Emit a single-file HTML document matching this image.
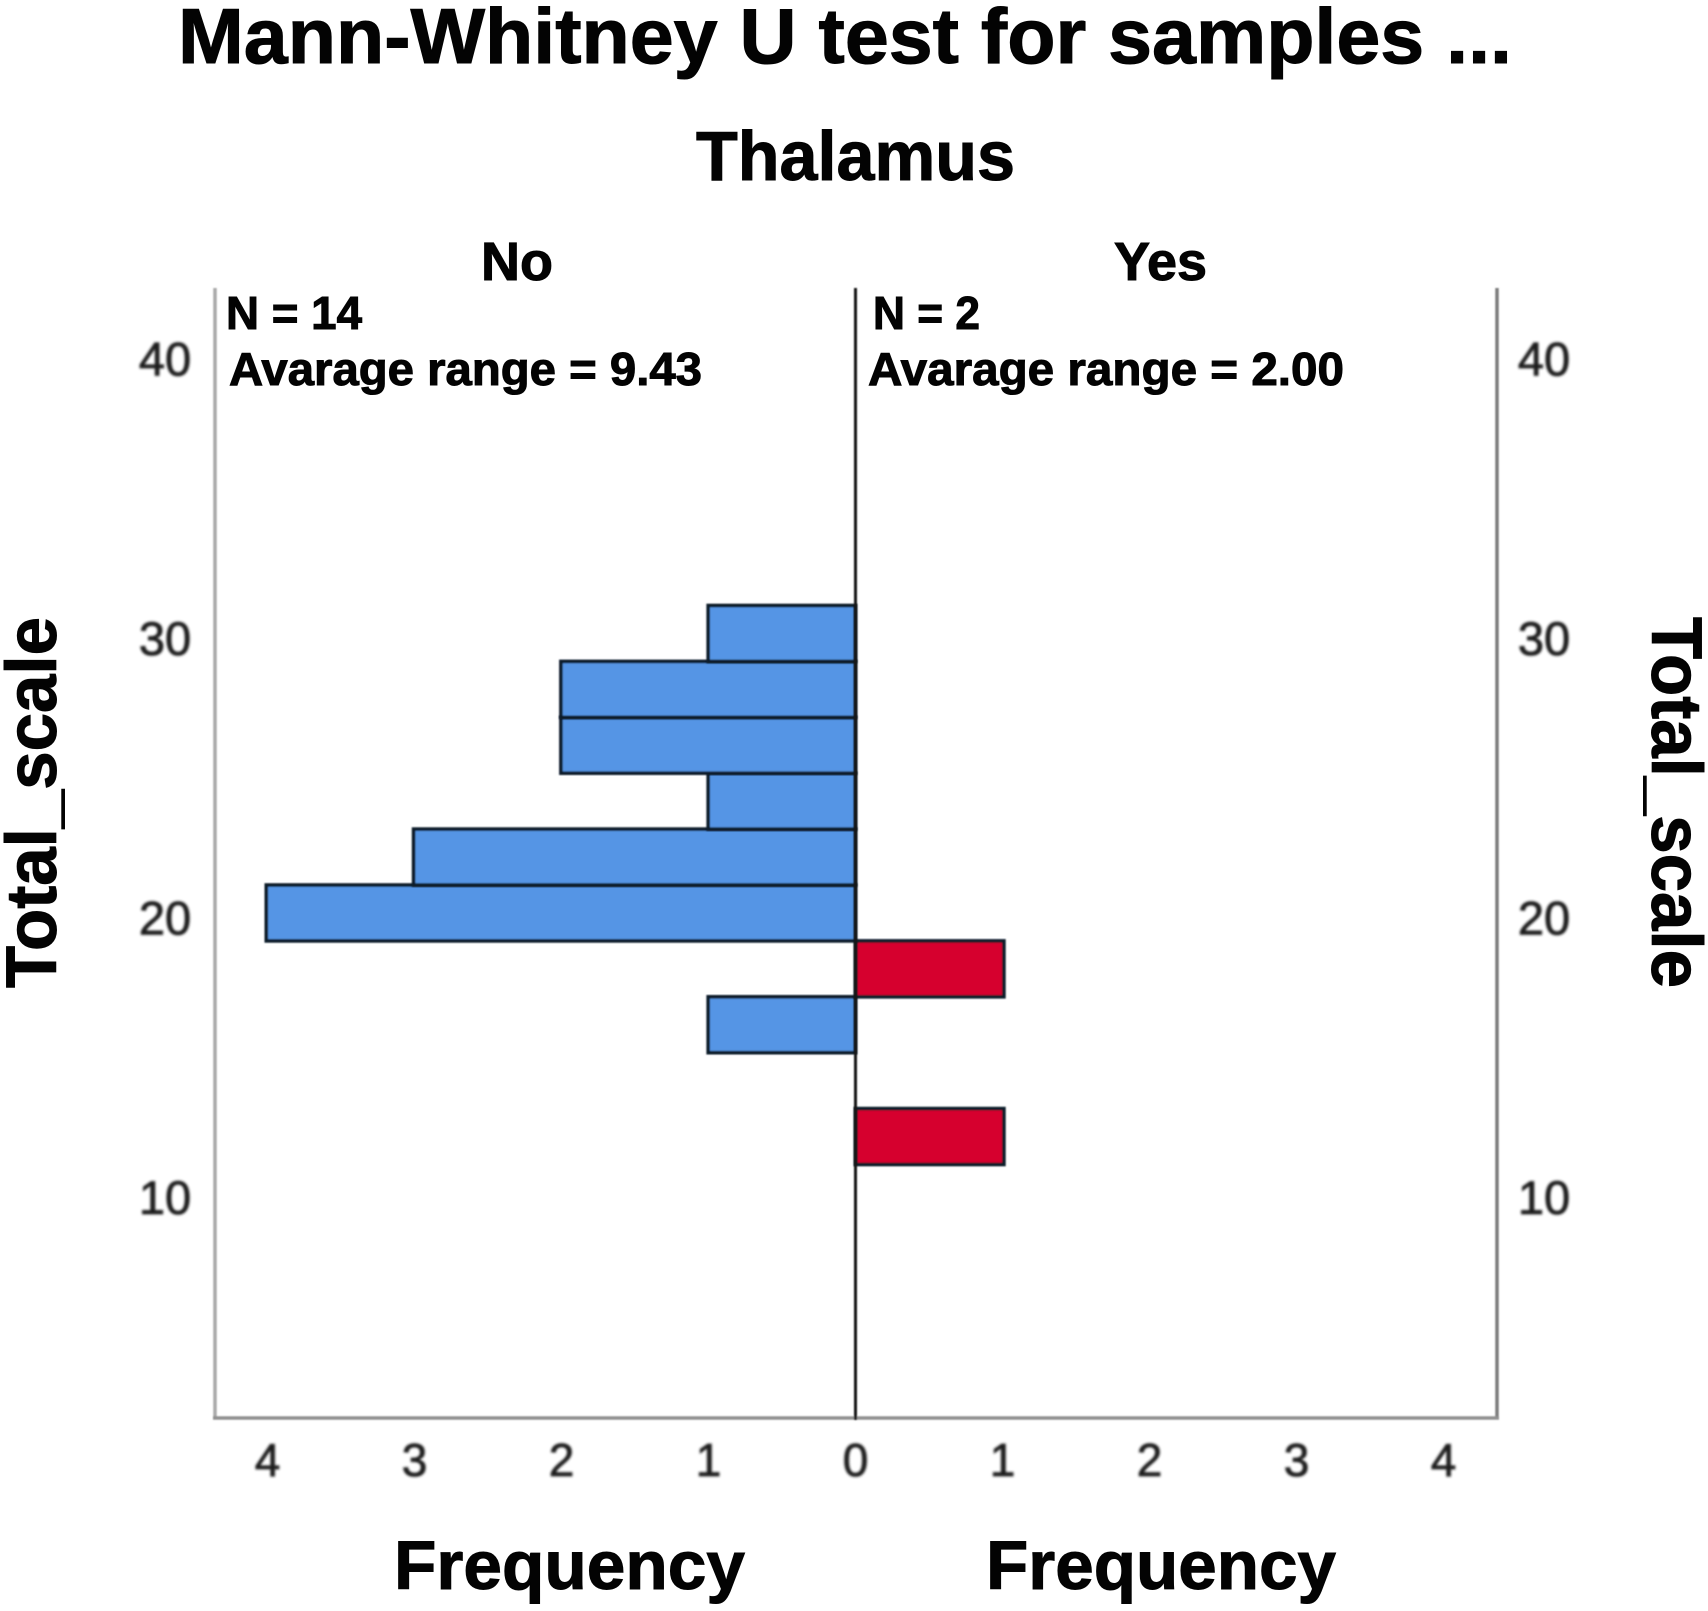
<!DOCTYPE html>
<html lang="en">
<head>
<meta charset="utf-8">
<title>Mann-Whitney U test for samples</title>
<style>
html,body{margin:0;padding:0;background:#fff;width:1708px;height:1611px;overflow:hidden}
svg{display:block}
.h{font-family:"Liberation Sans",sans-serif;font-weight:700;fill:#030303;stroke:#030303;stroke-width:1px}
.t{font-family:"Liberation Sans",sans-serif;fill:#1e1e1e;stroke:#1e1e1e;stroke-width:0.8px;filter:url(#soft)}
</style>
</head>
<body>
<svg id="chart" width="1708" height="1611" viewBox="0 0 1708 1611" xmlns="http://www.w3.org/2000/svg">
<defs>
<filter id="soft" x="-30%" y="-30%" width="160%" height="160%"><feGaussianBlur stdDeviation="1.4"/></filter>
<filter id="edge" x="-5%" y="-5%" width="110%" height="110%"><feGaussianBlur stdDeviation="0.8"/></filter>
</defs>
<rect width="1708" height="1611" fill="#fff"/>
<text class="h" x="178" y="63" font-size="78" textLength="1334" lengthAdjust="spacingAndGlyphs">Mann-Whitney U test for samples ...</text>
<text class="h" x="696" y="180" font-size="70" textLength="319" lengthAdjust="spacingAndGlyphs">Thalamus</text>
<text class="h" x="481" y="280" font-size="54" textLength="72" lengthAdjust="spacingAndGlyphs">No</text>
<text class="h" x="1114" y="280" font-size="54" textLength="93" lengthAdjust="spacingAndGlyphs">Yes</text>
<text class="h" x="226" y="329" font-size="46" textLength="136" lengthAdjust="spacingAndGlyphs">N = 14</text>
<text class="h" x="229" y="385" font-size="46" textLength="473" lengthAdjust="spacingAndGlyphs">Avarage range = 9.43</text>
<text class="h" x="873" y="329" font-size="46" textLength="107" lengthAdjust="spacingAndGlyphs">N = 2</text>
<text class="h" x="868" y="385" font-size="46" textLength="476" lengthAdjust="spacingAndGlyphs">Avarage range = 2.00</text>
<text class="h" x="394" y="1589" font-size="69" textLength="351" lengthAdjust="spacingAndGlyphs">Frequency</text>
<text class="h" x="986" y="1589" font-size="69" textLength="350" lengthAdjust="spacingAndGlyphs">Frequency</text>
<text class="h" transform="translate(56 988) rotate(-90)" font-size="71" textLength="371" lengthAdjust="spacingAndGlyphs">Total_scale</text>
<text class="h" transform="translate(1652 617) rotate(90)" font-size="71" textLength="371" lengthAdjust="spacingAndGlyphs">Total_scale</text>
<g id="bars"></g>
<g id="frame" filter="url(#edge)">
<line x1="215" y1="288" x2="215" y2="1418" stroke="#a8a8a8" stroke-width="3.5"/>
<line x1="1497" y1="288" x2="1497" y2="1418" stroke="#7d7d7d" stroke-width="3.5"/>
<line x1="213" y1="1418" x2="1499" y2="1418" stroke="#909090" stroke-width="3.5"/>
<line x1="855.5" y1="288" x2="855.5" y2="1420" stroke="#141414" stroke-width="3"/>
</g>
<g id="ticks"></g>
</svg>
<script>
const binLowerEdges = [11.2, 13.2, 15.2, 17.2, 19.2, 21.2, 23.2, 25.2, 27.2, 29.2];
const noCounts = [0, 0, 1, 0, 4, 3, 1, 2, 2, 1];
const yesCounts = [1, 0, 0, 1, 0, 0, 0, 0, 0, 0];
const binWidth = 2;
const yTickLabels = [10, 20, 30, 40];
const xTickLabels = [0, 1, 2, 3, 4];

const NS = 'http://www.w3.org/2000/svg';
function yScale(v) { return 1164.5 - (v - 11.2) * 27.95; }
function xNo(c) { return 855.5 - c * 147.3; }
function xYes(c) { return 855.5 + c * 148.4; }
function xTick(c, side) { return 855.5 + side * c * 147; }

const barsGroup = document.getElementById('bars');
const ticksGroup = document.getElementById('ticks');

function drawBar(x0, x1, lower, fill, name) {
  const el = document.createElementNS(NS, 'rect');
  
  
  el.setAttribute('x', Math.min(x0, x1));
  el.setAttribute('y', yScale(lower + binWidth));
  el.setAttribute('width', Math.abs(x1 - x0));
  el.setAttribute('height', yScale(lower) - yScale(lower + binWidth));
  el.setAttribute('fill', fill);
  el.setAttribute('stroke', '#111c2a');
  el.setAttribute('stroke-width', '3.6');
  el.setAttribute('filter', 'url(#edge)');
  barsGroup.appendChild(el);
}

binLowerEdges.forEach(function (lower, i) {
  if (noCounts[i] > 0) drawBar(xNo(noCounts[i]), xNo(0), lower, '#5495e5', 'bar-no-' + i);
  if (yesCounts[i] > 0) drawBar(xYes(0), xYes(yesCounts[i]), lower, '#d6002f', 'bar-yes-' + i);
});

function drawTick(x, y, label, size, name) {
  const el = document.createElementNS(NS, 'text');
  
  
  el.setAttribute('class', 't');
  el.setAttribute('x', x);
  el.setAttribute('y', y);
  el.setAttribute('font-size', size);
  el.setAttribute('text-anchor', 'middle');
  el.textContent = label;
  ticksGroup.appendChild(el);
}

yTickLabels.forEach(function (v) {
  drawTick(165, yScale(v) + 16, v, 47, 'y-tick-left-' + v);
  drawTick(1544, yScale(v) + 16, v, 47, 'y-tick-right-' + v);
});

xTickLabels.forEach(function (v) {
  drawTick(xTick(v, -1), 1476, v, 46, 'x-tick-no-' + v);
  if (v > 0) drawTick(xTick(v, 1), 1476, v, 46, 'x-tick-yes-' + v);
});
</script>
</body>
</html>
